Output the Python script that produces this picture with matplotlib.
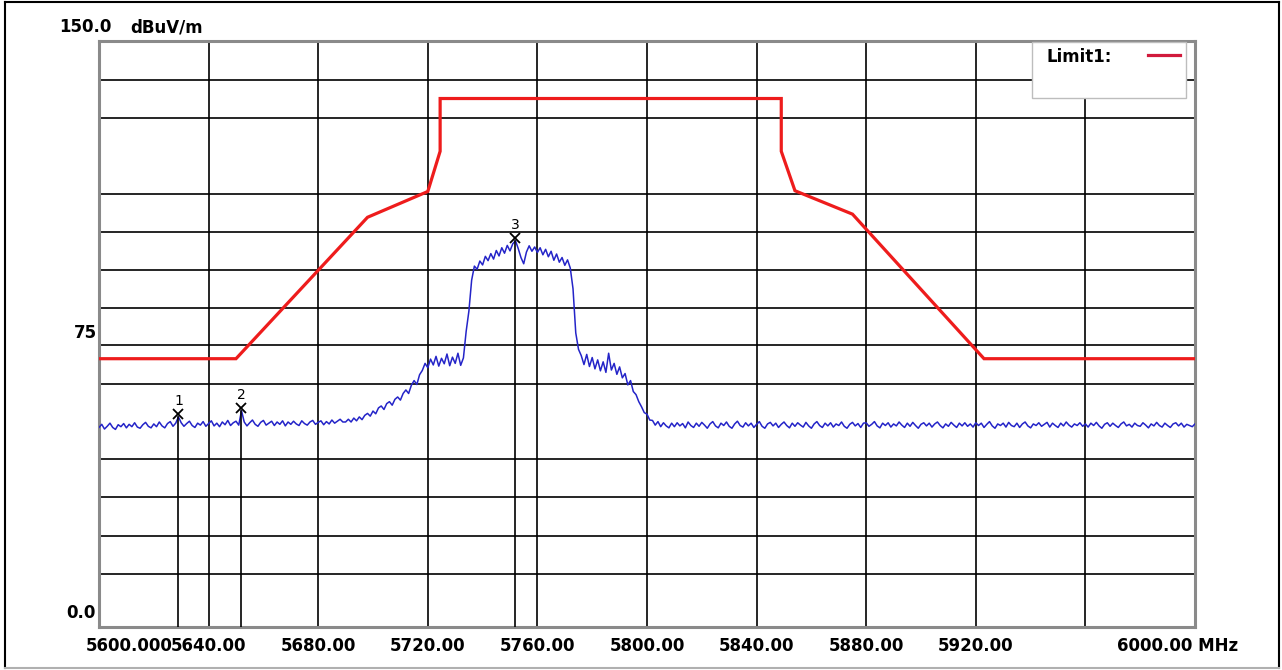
import matplotlib
matplotlib.use("Agg")
import numpy as np
import matplotlib.pyplot as plt
from matplotlib.patches import Rectangle
from matplotlib.lines import Line2D

W, H = 1282, 670

# spectrum trace, 1 MHz steps from 5600 MHz to 6000 MHz (dBuV/m)
trace_start = 5600
trace_dbuv = [
    51.0, 51.8, 50.6, 51.3, 52.1, 51.0, 50.5, 51.7, 51.2, 52.0,
    50.9, 51.8, 51.2, 52.2, 51.1, 50.8, 51.7, 52.3, 51.3, 50.9,
    51.9, 51.2, 52.4, 51.4, 50.9, 52.0, 52.5, 51.3, 52.1, 53.7,
    52.2, 51.3, 52.0, 52.6, 51.5, 51.0, 52.1, 51.6, 52.5, 51.3,
    52.0, 52.7, 51.4, 52.1, 51.2, 52.4, 51.7, 52.8, 51.5, 52.2,
    52.6, 51.6, 55.3, 52.4, 51.4, 52.2, 52.9, 51.8, 51.3, 52.3,
    52.8, 51.6, 52.1, 52.6, 51.5, 52.4, 51.8, 52.7, 51.4, 52.4,
    51.8, 52.6, 51.9, 51.5, 52.7, 52.0, 51.6, 52.4, 52.8, 51.8,
    52.3, 52.7, 51.7, 52.5, 51.9, 52.9, 52.1, 52.6, 53.1, 52.4,
    52.4, 53.1, 52.4, 53.4, 52.7, 53.7, 53.0, 54.1, 54.6, 53.9,
    55.2, 54.5, 56.0, 56.5, 55.6, 57.1, 57.6, 56.7, 58.2, 58.8,
    58.0, 59.7, 60.6, 59.7, 61.8, 63.0, 62.0, 64.5, 65.6, 67.4,
    66.3, 68.5, 67.0, 69.2, 66.7, 68.7, 67.3, 69.8, 66.8, 69.0,
    67.4, 70.0, 66.9, 68.8, 75.6, 80.8, 88.7, 92.3, 91.5, 93.6,
    92.6, 94.8, 93.7, 95.5, 94.1, 96.3, 94.9, 97.0, 95.6, 97.6,
    96.2, 98.0, 98.8, 96.8, 94.5, 92.9, 95.9, 97.5, 96.1, 97.2,
    95.8, 97.0, 95.2, 96.6, 94.7, 96.1, 93.8, 95.4, 93.3, 94.5,
    92.5, 93.9, 91.8, 86.5, 75.2, 71.0, 69.4, 67.1, 69.7, 66.6,
    68.9, 66.0, 68.3, 65.5, 67.8, 65.1, 70.0, 65.7, 67.4, 64.6,
    66.5, 63.7, 64.8, 61.9, 63.0, 60.2, 59.4, 57.6, 56.3, 54.8,
    54.4, 52.9, 52.8, 51.6, 52.5, 51.2, 52.2, 51.4, 50.9, 52.1,
    51.2, 52.2, 51.4, 52.0, 50.9, 52.4, 51.5, 51.0, 52.1, 51.3,
    52.3, 51.6, 50.8, 51.9, 52.5, 51.4, 50.9, 52.1, 51.5, 52.4,
    51.3, 50.8, 51.9, 52.6, 51.5, 51.1, 52.2, 51.4, 52.1, 51.0,
    51.8, 52.5, 51.3, 50.8, 51.9, 52.3, 51.4, 52.1, 51.0, 51.8,
    52.4, 51.5, 50.9, 52.1, 51.3, 52.2, 51.6, 51.1, 52.3, 51.4,
    50.8, 51.9, 52.5, 51.5, 51.0, 52.1, 51.4, 52.2, 51.1, 51.9,
    51.5, 52.4, 51.3, 50.8, 51.8, 52.3, 51.4, 52.0, 51.0, 52.1,
    52.2, 51.3, 51.8, 52.5, 51.4, 50.9, 52.1, 51.5, 52.2, 51.1,
    51.9, 51.4, 52.4, 51.6, 51.0, 52.1, 51.3, 52.3, 51.5, 50.8,
    51.8, 52.2, 51.4, 52.1, 51.1, 51.9, 52.4, 51.5, 50.9, 51.9,
    51.3, 52.3, 51.6, 51.0, 52.1, 51.4, 52.2, 51.3, 51.9, 51.1,
    52.2, 51.5, 52.1, 51.0, 51.8, 52.5, 51.4, 50.8, 51.9, 51.5,
    52.1, 51.1, 52.3, 51.5, 51.2, 52.1, 51.0, 51.9, 52.4, 51.4,
    50.9, 51.9, 51.5, 52.2, 51.3, 51.8, 52.3, 51.1, 52.1, 51.5,
    51.0, 52.1, 51.4, 52.4, 51.6, 51.1, 51.9, 51.5, 52.2, 51.3,
    51.9, 51.1, 52.1, 51.5, 52.3, 51.4, 50.8, 51.8, 52.2, 51.3,
    52.1, 51.5, 51.0, 51.9, 52.4, 51.4, 51.8, 51.1, 52.1, 51.5,
    51.3, 52.2, 51.6, 50.9, 51.9, 51.4, 52.3, 51.5, 51.1, 52.1,
    51.5, 51.0, 51.9, 52.2, 51.4, 52.1, 51.1, 51.8, 51.5, 51.2,
    51.9,
]

# limit line (Limit1)
limit_freq = [5600, 5650, 5698, 5720, 5724.5, 5724.5, 5849, 5849, 5854, 5875, 5923, 6000]
limit_dbuv = [68.6, 68.6, 104.8, 111.4, 121.7, 135.2, 135.2, 121.7, 111.6, 105.6, 68.6, 68.6]

# markers
marker_ids = ["1", "2", "3"]
marker_freq = [5629, 5652, 5752]

# grid
grid_freq = [5640, 5680, 5720, 5760, 5800, 5840, 5880, 5920, 5960]
grid_dbuv = [13.6, 23.3, 33.1, 42.8, 62.2, 72.0, 81.7, 91.4, 101.1, 110.8, 130.3, 140.0]

# axis labels
xtick_freq = [5640, 5680, 5720, 5760, 5800, 5840, 5880, 5920]
xtick_text = ["5640.00", "5680.00", "5720.00", "5760.00", "5800.00", "5840.00", "5880.00", "5920.00"]

plt.rcParams["font.family"] = ["DejaVu Sans"]


def fx(x):
    return x / W


def fy(y):
    return 1 - y / H


fig = plt.figure(figsize=(W / 100, H / 100), dpi=100)
fig.patch.set_facecolor("white")

ax_l, ax_r, ax_t, ax_b = 99, 1195, 40.7, 626.7
ax = fig.add_axes([fx(ax_l), fy(ax_b), (ax_r - ax_l) / W, (ax_b - ax_t) / H])
ax.set_xlim(5600, 6000)
ax.set_ylim(0, 150)
ax.set_xticks([])
ax.set_yticks([])
for s in ax.spines.values():
    s.set_color("#8a8a8a")
    s.set_linewidth(2.2)

# grid
for g in grid_freq:
    ax.axvline(g, color="black", lw=1.2, zorder=1)
for g in grid_dbuv:
    ax.axhline(g, color="black", lw=1.2, zorder=1)

# trace
freqs = trace_start + np.arange(len(trace_dbuv))
ax.plot(freqs, trace_dbuv, color="#2424c8", lw=1.1, zorder=3)

# limit
ax.plot(limit_freq, limit_dbuv, color="#ee1c1c", lw=2.3, zorder=4,
        solid_joinstyle="miter")

# markers
for mid, mf in zip(marker_ids, marker_freq):
    mv = trace_dbuv[mf - trace_start]
    ax.plot([mf, mf], [0, mv], color="black", lw=1.2, zorder=5)
    ax.plot(mf, mv + 0.8, marker="x", color="black", ms=6.5, mew=1.3, zorder=6)
    ax.annotate(mid, (mf, mv + 0.8), xytext=(0, 4), textcoords="offset points",
                ha="center", va="bottom", fontsize=10, color="black", zorder=6)

# y labels
lab = dict(fontsize=12, fontweight="bold", color="black")
fig.text(fx(59), fy(32), "150.0", ha="left", va="baseline", **lab)
fig.text(fx(130), fy(32), "dBuV/m", ha="left", va="baseline", **lab)
fig.text(fx(97), fy(338.5), "75", ha="right", va="baseline", **lab)
fig.text(fx(96), fy(618), "0.0", ha="right", va="baseline", **lab)

# x labels
base_y = fy(651)
fig.text(fx(86), base_y, "5600.000", ha="left", va="baseline", **lab)
for f, t in zip(xtick_freq, xtick_text):
    xp = ax_l + (f - 5600) / 400 * (ax_r - ax_l)
    fig.text(fx(xp), base_y, t, ha="center", va="baseline", **lab)
fig.text(fx(1117), base_y, "6000.00 MHz", ha="left", va="baseline", **lab)

# legend box
fig.add_artist(Rectangle((fx(1032), fy(98)), (1186 - 1032) / W, (98 - 42) / H,
                         transform=fig.transFigure, facecolor="white",
                         edgecolor="#bdbdbd", lw=1.0, zorder=10))
fig.text(fx(1047), fy(62), "Limit1:", ha="left", va="baseline", zorder=11, **lab)
fig.add_artist(Line2D([fx(1148), fx(1180)], [fy(55), fy(55)], color="#d11a3c",
                      lw=2.3, zorder=11))

# outer image border
fig.add_artist(Line2D([fx(5), fx(5)], [fy(2), fy(668)], color="black", lw=1.5))
fig.add_artist(Line2D([fx(5), fx(1279)], [fy(2), fy(2)], color="black", lw=1.5))
fig.add_artist(Line2D([fx(1279), fx(1279)], [fy(2), fy(668)], color="black", lw=1.5))
fig.add_artist(Line2D([fx(5), fx(1279)], [fy(668), fy(668)], color="#b0b0b0", lw=1.5))

fig.savefig("out.png", dpi=100)
